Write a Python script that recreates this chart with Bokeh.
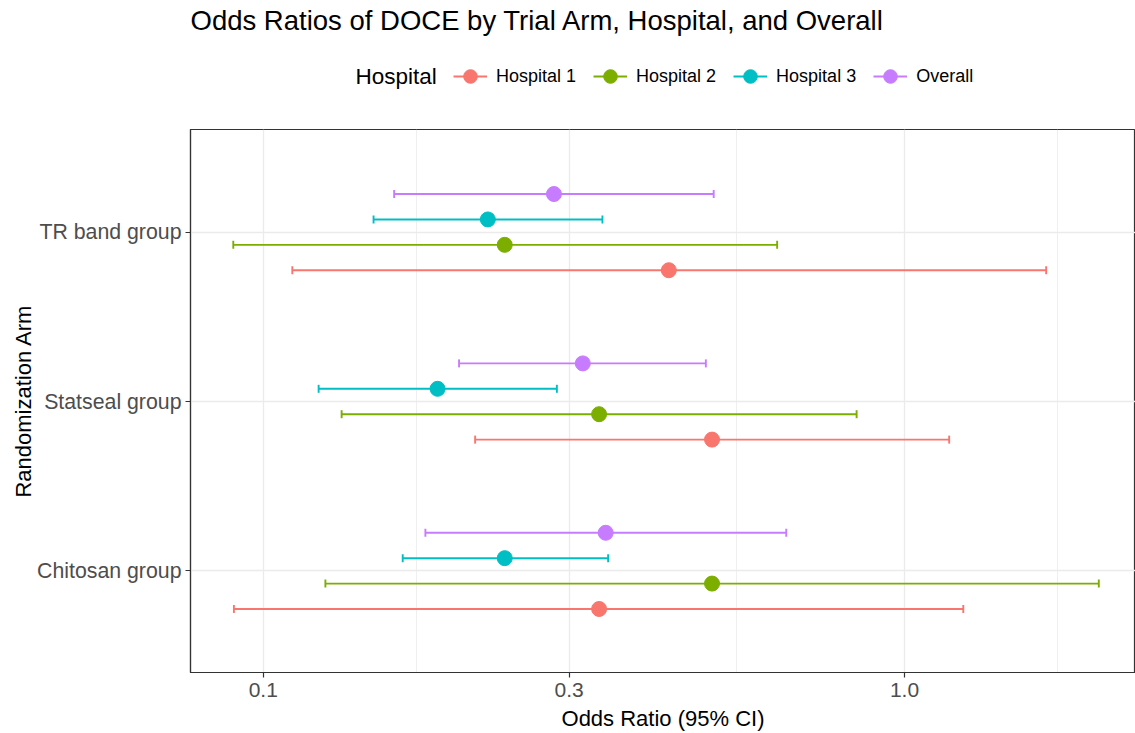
import math
from bokeh.plotting import figure
from bokeh.layouts import column
from bokeh.models import (ColumnDataSource, Range1d, FixedTicker, Legend, LegendItem,
                          LogAxis, LinearAxis, LogScale, Grid, Label)
from bokeh.embed import file_html
from bokeh.resources import INLINE

# ---------------- data ----------------
arms = ["Chitosan group", "Statseal group", "TR band group"]
hospitals = ["Hospital 1", "Hospital 2", "Hospital 3", "Overall"]
colors = ["#F8766D", "#7CAE00", "#00BFC4", "#C77CFF"]

# odds ratio, lower CI, upper CI in the arm order above
h1_or = [0.334, 0.501, 0.429]
h1_lo = [0.090, 0.214, 0.111]
h1_hi = [1.235, 1.174, 1.663]

h2_or = [0.501, 0.334, 0.238]
h2_lo = [0.125, 0.1325, 0.0898]
h2_hi = [2.009, 0.842, 0.633]

h3_or = [0.238, 0.187, 0.224]
h3_lo = [0.165, 0.122, 0.1486]
h3_hi = [0.345, 0.287, 0.338]

ov_or = [0.342, 0.315, 0.284]
ov_lo = [0.179, 0.202, 0.160]
ov_hi = [0.654, 0.490, 0.504]

x_ticks = [0.1, 0.3, 1.0]
x_tick_labels = ["0.1", "0.3", "1.0"]

series = [(h1_or, h1_lo, h1_hi), (h2_or, h2_lo, h2_hi),
          (h3_or, h3_lo, h3_hi), (ov_or, ov_lo, ov_hi)]

# ---------------- layout constants ----------------
FONT = "Liberation Sans"
W = 1135
HEAD_H = 129
MAIN_H = 604

x_start, x_end = 0.07701, 2.292
y_start, y_end = 0.40, 3.606

# ---------------- main plot ----------------
p = figure(width=W, height=MAIN_H, x_axis_type=None, y_axis_type=None,
           x_range=Range1d(x_start, x_end), y_range=Range1d(y_start, y_end),
           output_backend="svg", toolbar_location=None, title=None,
           min_border_left=190, min_border_right=0,
           min_border_top=0, min_border_bottom=60)
p.x_scale = LogScale()

p.background_fill_color = "white"
p.border_fill_color = "white"
p.outline_line_color = "#333333"
p.outline_line_width = 1.2

xaxis = LogAxis(ticker=FixedTicker(ticks=x_ticks,
                                   minor_ticks=[math.sqrt(0.1 * 0.3), math.sqrt(0.3), math.sqrt(3.0)]))
xaxis.major_label_overrides = {t: l for t, l in zip(x_ticks, x_tick_labels)}
xaxis.axis_label = "Odds Ratio (95% CI)"
p.add_layout(xaxis, "below")

yaxis = LinearAxis(ticker=FixedTicker(ticks=[1, 2, 3]))
yaxis.major_label_overrides = {i + 1: a for i, a in enumerate(arms)}
yaxis.axis_label = "Randomization Arm"
p.add_layout(yaxis, "left")

for ax in (xaxis, yaxis):
    ax.axis_line_color = "#333333"
    ax.axis_line_width = 1.2
    ax.major_tick_line_color = "#333333"
    ax.major_tick_line_width = 1.2
    ax.major_tick_in = 0
    ax.major_tick_out = 5
    ax.minor_tick_line_color = None
    ax.major_label_text_font = FONT
    ax.major_label_text_color = "#4D4D4D"
    ax.major_label_text_font_size = "21px"
    ax.axis_label_text_font = FONT
    ax.axis_label_text_font_style = "normal"
    ax.axis_label_text_color = "black"
    ax.axis_label_text_font_size = "22px"
yaxis.major_label_text_font_size = "21.3px"
xaxis.major_label_standoff = 5
xaxis.axis_label_standoff = 6
yaxis.major_label_standoff = 4
yaxis.axis_label_standoff = -2

xgrid = Grid(dimension=0, ticker=xaxis.ticker, axis=xaxis,
             grid_line_color="#EBEBEB", grid_line_width=1.3,
             minor_grid_line_color="#EBEBEB", minor_grid_line_width=0.8)
ygrid = Grid(dimension=1, ticker=yaxis.ticker, axis=yaxis,
             grid_line_color="#EBEBEB", grid_line_width=1.3)
p.add_layout(xgrid, "center")
p.add_layout(ygrid, "center")

# ---------------- header (title + legend) ----------------
head = figure(width=W, height=HEAD_H, x_range=Range1d(0, 1), y_range=Range1d(0, 1),
              output_backend="svg", toolbar_location=None, title=None,
              min_border=0, x_axis_type=None, y_axis_type=None)
head.outline_line_color = None
head.xgrid.visible = False
head.ygrid.visible = False
head.background_fill_color = "white"
head.border_fill_color = "white"

dodge = 0.15
items = []
for k, (name, col, (vals, lo, hi)) in enumerate(zip(hospitals, colors, series)):
    ys = [i + 1 + (k - 1.5) * dodge for i in range(len(arms))]
    src = ColumnDataSource(dict(y=ys, v=vals, lo=lo, hi=hi))
    p.segment(x0="lo", x1="hi", y0="y", y1="y", source=src,
              line_color=col, line_width=1.9)
    p.scatter(x="lo", y="y", source=src, marker="dash", angle=math.pi / 2,
              size=8, line_color=col, line_width=1.9)
    p.scatter(x="hi", y="y", source=src, marker="dash", angle=math.pi / 2,
              size=8, line_color=col, line_width=1.9)
    p.scatter(x="v", y="y", source=src, marker="circle", size=15,
              fill_color=col, line_color=col)
    # legend key glyphs (hidden renderers in the header, used only for the key)
    lg_line = head.line(x="v", y="y", source=src, line_color=col,
                        line_width=1.9, visible=False)
    lg_pt = head.scatter(x="v", y="y", source=src, marker="circle", size=14,
                         fill_color=col, line_color=col, visible=False)
    items.append(LegendItem(label=name, renderers=[lg_line, lg_pt]))

legend = Legend(items=items, orientation="horizontal",
                label_text_font=FONT, label_text_font_size="18px",
                label_text_color="black",
                glyph_width=34, glyph_height=34, label_standoff=9,
                spacing=17, padding=0, margin=0,
                inactive_fill_alpha=0,
                border_line_color=None, background_fill_alpha=0,
                location=(263, 36))
head.add_layout(legend, "center")

head.add_layout(Label(x=165, y=53, x_units="screen", y_units="screen",
                      text="Hospital", text_font=FONT, text_font_size="22.5px",
                      text_color="black", text_baseline="middle"))
head.add_layout(Label(x=0, y=109, x_units="screen", y_units="screen",
                      text="Odds Ratios of DOCE by Trial Arm, Hospital, and Overall",
                      text_font=FONT, text_font_size="27.5px",
                      text_color="black", text_baseline="middle"))

layout = column(head, p, spacing=0)
open("out.html", "w").write(file_html(layout, INLINE))
